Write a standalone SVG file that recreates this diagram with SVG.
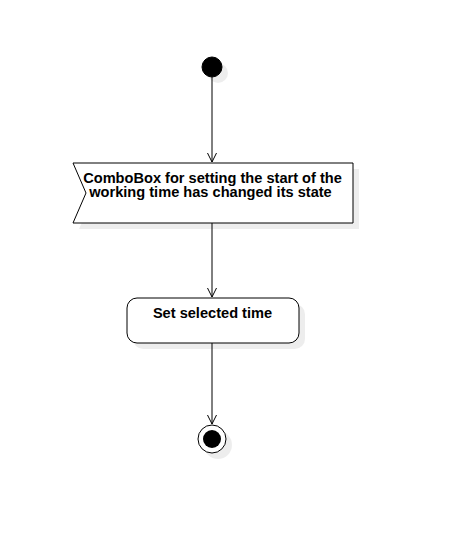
<svg xmlns="http://www.w3.org/2000/svg" width="454" height="543" viewBox="0 0 454 543">
<defs>
<style>
.shape{fill:#ffffff;stroke:#000000;stroke-width:1}
.shadow{fill:#000000;fill-opacity:0.07;stroke:none}
.edge{fill:none;stroke:#000000;stroke-width:1}
.lbl{font-family:"Liberation Sans",Arial,sans-serif;font-weight:bold;font-size:14.6px;fill:#000000;text-anchor:middle}
</style>
<marker id="arr" markerWidth="12" markerHeight="12" refX="10" refY="5" orient="auto" markerUnits="userSpaceOnUse">
<path d="M1,0.5 L10,5 L1,9.5" fill="none" stroke="#000000" stroke-width="1"/>
</marker>
</defs>
<rect width="454" height="543" fill="#ffffff"/>
<g id="connectors">
<line class="edge" x1="212" y1="77" x2="212" y2="162" marker-end="url(#arr)"/>
<line class="edge" x1="212" y1="223" x2="212" y2="297" marker-end="url(#arr)"/>
<line class="edge" x1="212" y1="343" x2="212" y2="424" marker-end="url(#arr)"/>
</g>
<g id="start">
<circle class="shadow" cx="218" cy="73" r="10"/>
<circle cx="212" cy="67" r="10" fill="#000000" stroke="#000000"/>
</g>
<g id="event">
<path class="shadow" d="M79,169 L359,169 L359,229 L79,229 L92,199 Z"/>
<path class="shape" d="M73,163 L353,163 L353,223 L73,223 L86,193 Z"/>
<text class="lbl" x="212.5" y="183">ComboBox for setting the start of the</text>
<text class="lbl" x="210.5" y="197">working time has changed its state</text>
</g>
<g id="action">
<rect class="shadow" x="133" y="304" width="172" height="45" rx="10" ry="10"/>
<rect class="shape" x="127" y="298" width="172" height="45" rx="10" ry="10"/>
<text class="lbl" x="212.5" y="318">Set selected time</text>
</g>
<g id="end">
<circle class="shadow" cx="218" cy="445" r="14"/>
<circle class="shape" cx="212" cy="439" r="14"/>
<circle cx="212" cy="439" r="9" fill="#000000"/>
</g>
</svg>
